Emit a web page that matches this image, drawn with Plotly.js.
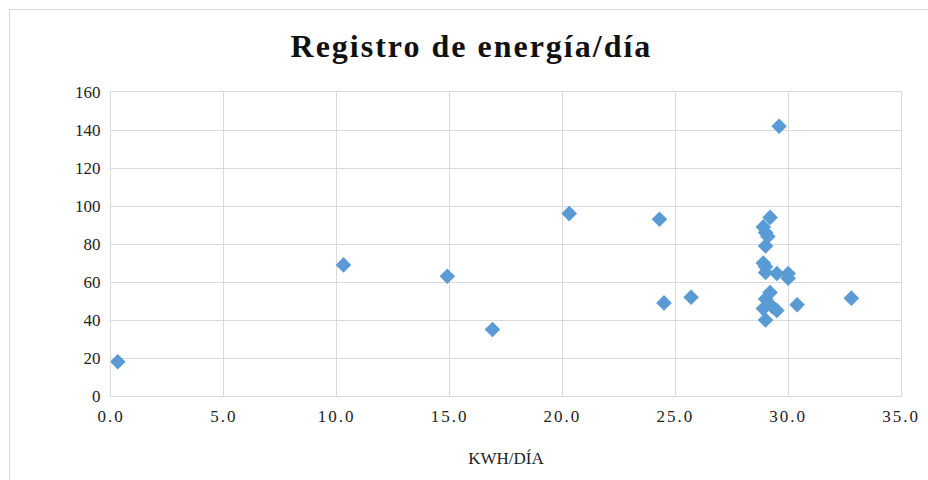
<!DOCTYPE html>
<html>
<head>
<meta charset="utf-8">
<script src="https://cdn.plot.ly/plotly-3.0.1.min.js"></script>
<style>
html,body{margin:0;padding:0;background:#fff;overflow:hidden;}
#frame{position:absolute;left:9px;top:9px;width:940px;height:490px;border:1px solid #d9d9d9;box-sizing:border-box;}
#chart{position:absolute;left:0;top:0;width:928px;height:480px;}
.gtitle{letter-spacing:2px;}
.xtick text{letter-spacing:2px;}
</style>
</head>
<body>
<div id="frame"></div>
<div id="chart"></div>
<script>
const kwhDia = [0.3, 10.3, 14.9, 16.9, 20.3, 24.3, 24.5, 25.7, 29.6, 30.4, 32.8,
  29.2, 28.9, 29.0, 29.1, 29.0, 28.9, 29.0, 29.0, 29.5, 30.0, 30.0,
  29.2, 29.0, 28.9, 29.3, 29.5, 29.0];
const registro = [18, 69, 63, 35, 96, 93, 49, 52, 142, 48, 51.5,
  94, 89, 86, 84, 79, 70, 68, 65, 64.5, 64.5, 62,
  54.5, 51, 46, 47, 45, 40];
const xTicks = [0, 5, 10, 15, 20, 25, 30, 35];
const yTicks = [0, 20, 40, 60, 80, 100, 120, 140, 160];

const serif = 'Liberation Serif, Times New Roman, serif';
const trace = {
  x: kwhDia, y: registro, type: 'scatter', mode: 'markers',
  marker: {symbol: 'diamond', size: 12, color: '#5b9bd5'},
  hoverinfo: 'x+y'
};
const layout = {
  width: 928, height: 480,
  margin: {l: 111, r: 27, t: 92, b: 84},
  paper_bgcolor: 'rgba(0,0,0,0)', plot_bgcolor: '#fff',
  showlegend: false,
  font: {family: serif, color: '#222'},
  title: {text: 'Registro de energía/día', x: 0.508, xanchor: 'center', y: 0.905, yanchor: 'middle',
    font: {family: serif, size: 32, color: '#111', weight: 'bold'}},
  xaxis: {range: [0, 35], tickvals: xTicks, ticktext: xTicks.map(v => v.toFixed(1)),
    showgrid: true, gridcolor: '#d9d9d9', gridwidth: 1, zeroline: false,
    showline: true, linecolor: '#d9d9d9', mirror: true, ticks: '',
    tickfont: {family: serif, size: 17, color: '#222'}, ticklabelstandoff: 5,
    title: {text: 'KWH/DÍA', font: {family: serif, size: 17, color: '#222'}, standoff: 26}},
  yaxis: {range: [0, 160], tickvals: yTicks, ticktext: yTicks.map(String),
    showgrid: true, gridcolor: '#d9d9d9', gridwidth: 1, zeroline: false,
    showline: true, linecolor: '#d9d9d9', mirror: true, ticks: '',
    tickfont: {family: serif, size: 17, color: '#222'}, ticklabelstandoff: 6}
};
Plotly.newPlot('chart', [trace], layout, {displayModeBar: false, staticPlot: true});
</script>
</body>
</html>
